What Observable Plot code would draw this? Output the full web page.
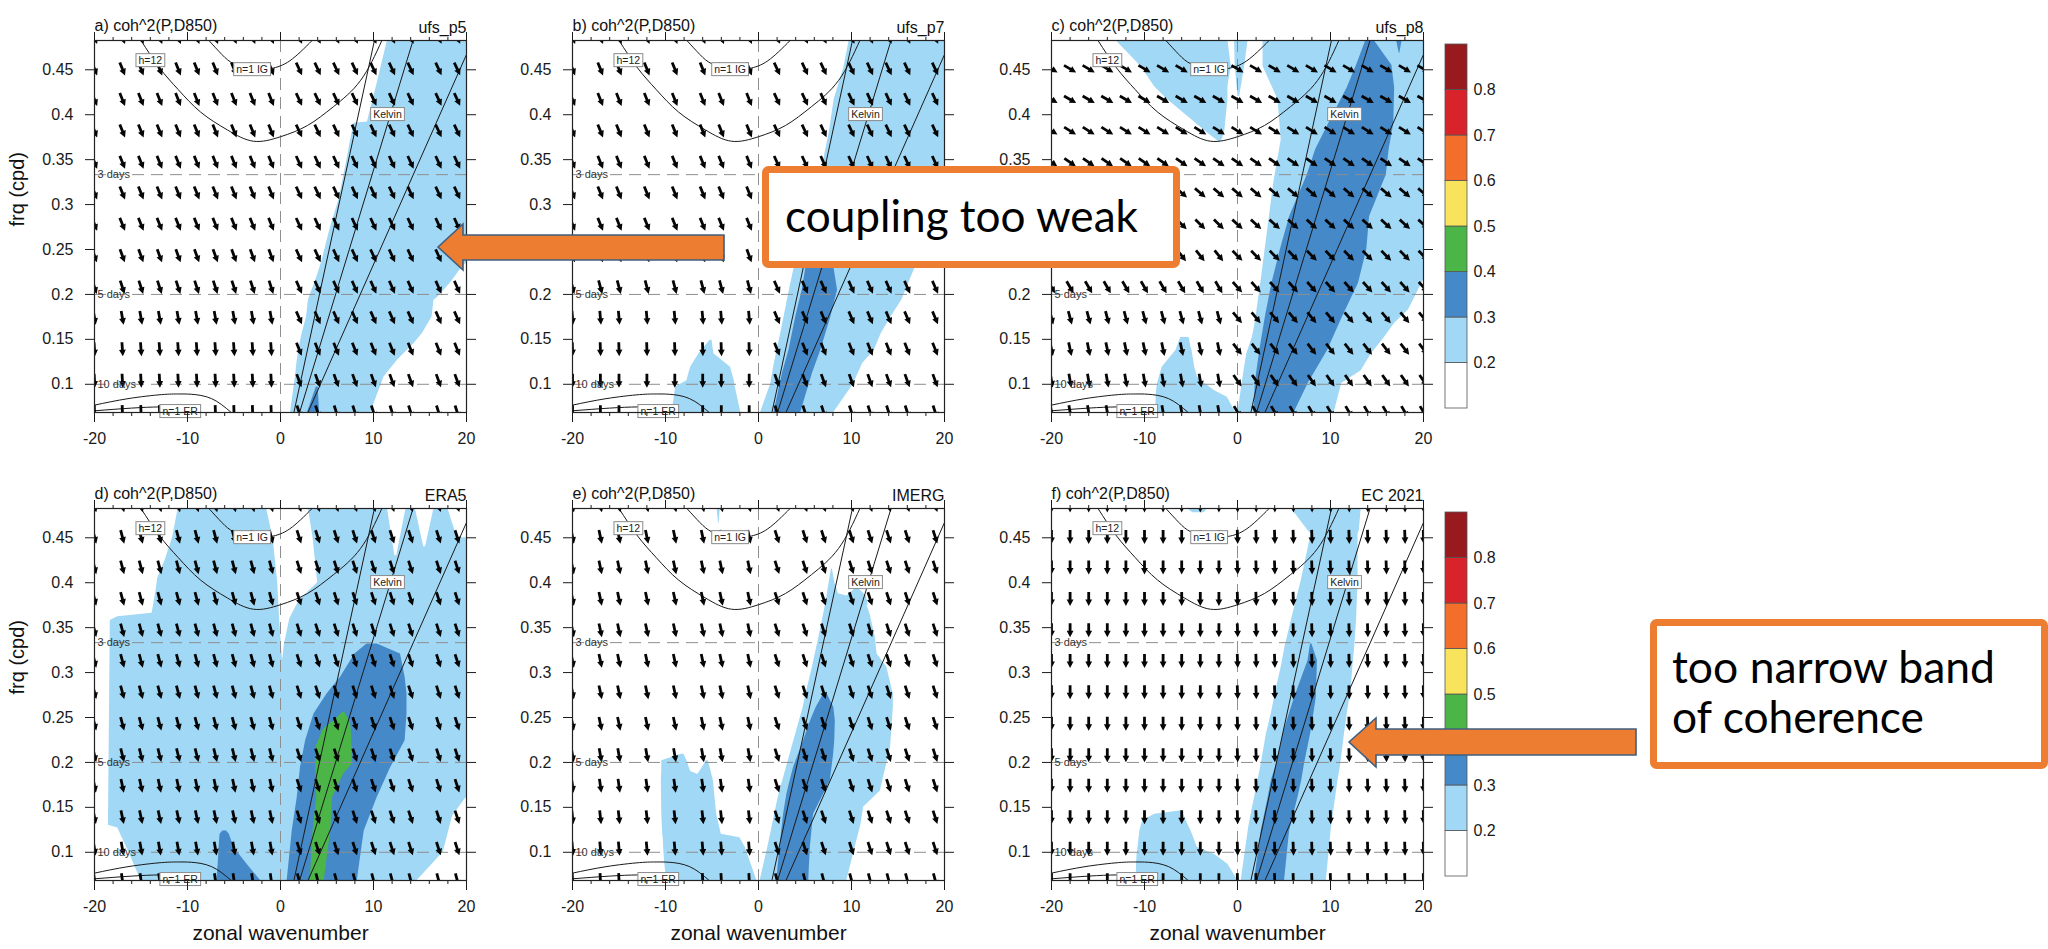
<!DOCTYPE html>
<html><head><meta charset="utf-8">
<script src="https://cdn.jsdelivr.net/npm/d3@7"></script>
<script src="https://cdn.jsdelivr.net/npm/@observablehq/plot@0.6"></script>
<style>
body{margin:0;background:#fff;}
#root{position:relative;width:2048px;height:949px;overflow:hidden;background:#fff;font-family:"Liberation Sans",Arial,Helvetica,sans-serif;}
#root svg{max-width:none;}
</style></head><body><div id="root"></div>
<script>
// ---------------- data ----------------
const xDomain = [-20, 20];
const yDomain = [0.0686, 0.4826];
const yTicks = [0.1, 0.15, 0.2, 0.25, 0.3, 0.35, 0.4, 0.45];
const xTicks = [-20, -10, 0, 10, 20];
const xMinor = [-18, -16, -14, -12, -8, -6, -4, -2, 2, 4, 6, 8, 12, 14, 16, 18];
const periodF = [0.3333, 0.2, 0.1];
const periodText = ["3 days", "5 days", "10 days"];
const levels = [0.2, 0.3, 0.4, 0.5, 0.6, 0.7, 0.8];
const levelColors = ["#ffffff", "#a0d8f5", "#4589c9", "#4bb548", "#f8e35c", "#f36d2b", "#d8232a", "#971b1e"];
const titles = ["a) coh^2(P,D850)", "b) coh^2(P,D850)", "c) coh^2(P,D850)", "d) coh^2(P,D850)", "e) coh^2(P,D850)", "f) coh^2(P,D850)"];
const models = ["ufs_p5", "ufs_p7", "ufs_p8", "ERA5", "IMERG", "EC 2021"];

// phase-arrow grid
const freqRows = [0.069, 0.104, 0.139, 0.174, 0.208, 0.243, 0.278, 0.313, 0.347, 0.382, 0.417, 0.451, 0.486];
const colsAD = [-20, -17, -15, -13, -11, -9, -7, -5, -3, -1, 2, 4, 6, 8, 10, 12, 14, 17, 19];
const colsBE = [-20, -17, -15, -12, -9, -6, -4, -1, 2, 5, 7, 10, 12, 14, 16, 19];
const colsCF = [-20, -18, -16, -14, -12, -10, -8, -6, -4, -2, 0, 2, 4, 6, 8, 10, 12, 14, 16, 18, 20];
// arrow tilt (deg, clockwise from straight down) per frequency row, west / east of k=0
const angA_W = [2, 3, 4, 10, 18, 20, 22, 22, 22, 22, 22, 22, 22];
const angA_E = [18, 20, 22, 24, 24, 25, 25, 25, 25, 25, 25, 25, 25];
const angB_W = [0, 0, 2, 5, 15, 20, 22, 22, 22, 22, 22, 22, 22];
const angB_E = [18, 20, 22, 23, 24, 25, 25, 25, 25, 25, 25, 25, 25];
const angC_W = [10, 10, 12, 15, 30, 38, 45, 50, 55, 58, 60, 60, 60];
const angC_E = [30, 35, 38, 40, 42, 45, 48, 50, 55, 58, 60, 60, 60];
const angD_W = [8, 10, 12, 12, 14, 15, 15, 15, 15, 15, 15, 15, 15];
const angD_E = [15, 18, 18, 18, 18, 18, 18, 18, 18, 18, 18, 18, 18];
const angE_W = [3, 5, 6, 8, 10, 12, 12, 12, 12, 12, 12, 12, 12];
const angE_E = [15, 18, 18, 18, 18, 18, 18, 18, 18, 18, 18, 18, 18];
const angF_W = [0, 0, 0, 0, 0, 0, 0, 0, 0, 0, 0, 0, 0];
const angF_E = [2, 2, 2, 2, 2, 2, 2, 2, 2, 2, 2, 2, 2];

// dispersion curves [k, f]
const kelvinLines = [
  {h: 50, k0: 1.44, f0: 0.0686, k1: 10.1, f1: 0.4826},
  {h: 25, k0: 2.05, f0: 0.0686, k1: 14.25, f1: 0.4826},
  {h: 12, k0: 2.95, f0: 0.0686, k1: 20, f1: 0.467}
];
const ig12 = [[-15.0, 0.4826], [-13.0, 0.452], [-11.0, 0.428], [-8.6, 0.403], [-5.7, 0.383], [-2.9, 0.3705], [0, 0.3755], [2.9, 0.388], [5.7, 0.409], [8.6, 0.438], [10.9, 0.4826]];
const ig25 = [[-7.7, 0.4826], [-6.3, 0.467], [-5.0, 0.4565], [-3.0, 0.4505], [-1.0, 0.4515], [1.0, 0.46], [3.4, 0.4826]];
const er12 = [[-20, 0.0768], [-16.4, 0.084], [-12.8, 0.0885], [-11.0, 0.0892], [-9.6, 0.0889], [-7.4, 0.084], [-5.3, 0.0686]];
const er25 = [[-20, 0.0705], [-16, 0.0735], [-13, 0.0748], [-10.5, 0.0745]];
const curveLabels = [
  {k: -14.0, f: 0.460, t: "h=12"},
  {k: -3.05, f: 0.450, t: "n=1 IG"},
  {k: 11.5, f: 0.400, t: "Kelvin"},
  {k: -10.8, f: 0.0695, t: "n=1 ER"}
];

// coherence^2 regions, rows of [frequency, k_left, k_right]
const cohA_lb = [[0.4826, 11.5, 20], [0.4351, 10.4, 20], [0.392, 9.35, 20], [0.3905, 7.9, 20], [0.372, 7.54, 20], [0.3422, 7.0, 20], [0.3051, 6.28, 20], [0.2753, 5.39, 20], [0.235, 4.4, 20], [0.23, 4.24, 19.5], [0.213, 3.7, 18.3], [0.197, 3.1, 16.9], [0.1936, 3.0, 16.5], [0.175, 2.8, 16.3], [0.1564, 2.33, 15.26], [0.1453, 2.1, 14.36], [0.1267, 1.8, 12.57], [0.1081, 1.6, 11.13], [0.0686, 1.08, 9.7]];
const cohA_db = [[0.097, 3.85, 4.05], [0.0686, 2.9, 4.2]];

const cohB_lb = [[0.4826, 9.75, 20], [0.4537, 9.21, 20], [0.4166, 8.13, 20], [0.3794, 7.6, 20], [0.3434, 6.88, 20], [0.29, 5.5, 20], [0.25, 4.5, 18.5], [0.2289, 3.82, 16.8], [0.2085, 3.4, 16.0], [0.1936, 3.1, 15.4], [0.175, 2.75, 14.24], [0.1564, 2.39, 13.2], [0.138, 2.0, 12.45], [0.123, 1.7, 11.2], [0.1, 1.3, 10.2], [0.0686, 0.23, 8.1]];
const cohB_lb2 = [[0.149, -5.2, -5.0], [0.134, -6.4, -4.8], [0.119, -7.3, -3.0], [0.104, -7.7, -2.6], [0.097, -8.9, -2.5], [0.0686, -9.3, -1.9]];
const cohB_db = [[0.30, 7.3, 7.6], [0.2289, 5.08, 8.13], [0.2047, 4.7, 8.5], [0.175, 4.0, 7.78], [0.138, 3.28, 6.7], [0.112, 2.57, 5.8], [0.0686, 1.67, 4.54]];

const cohC_lb = [[0.4826, 2.75, 20], [0.4537, 2.75, 20], [0.4166, 4.36, 20], [0.372, 4.7, 20], [0.324, 3.9, 20], [0.216, 2.55, 20], [0.183, 2.1, 18.4], [0.168, 1.9, 16.9], [0.152, 1.6, 15.8], [0.134, 1.0, 14.4], [0.115, 0.7, 13.3], [0.101, 0.5, 11.2], [0.0686, 0.05, 10.4]];
const cohC_lb2 = [[0.4826, -13.07, -1.03], [0.4537, -10.37, -0.67], [0.4314, -8.93, -1.03], [0.4166, -7.5, -1.03], [0.398, -5.34, -1.21], [0.3794, -3.18, -1.39], [0.3701, -2.03, -1.75]];
const cohC_lb3 = [[0.4826, -0.31, 1.13], [0.4537, -0.24, 0.77], [0.4203, 0.05, 0.23]];
const cohC_lb4 = [[0.152, -6.1, -5.2], [0.141, -6.5, -5.0], [0.138, -6.6, -4.9], [0.119, -8.1, -4.6], [0.108, -8.4, -4.3], [0.101, -8.6, -3.5], [0.093, -8.7, -2.5], [0.0855, -8.75, -1.1], [0.0686, -8.8, -0.2]];
const cohC_db = [[0.4826, 13.8, 14.7], [0.455, 12.8, 16.6], [0.43, 11.8, 16.9], [0.39, 9.8, 16.8], [0.361, 8.4, 16.3], [0.333, 7.5, 16.0], [0.2865, 5.6, 14.2], [0.2494, 4.6, 13.9], [0.2123, 3.7, 13.0], [0.1751, 3.0, 11.3], [0.1379, 2.4, 9.7], [0.1008, 1.9, 7.6], [0.0686, 1.8, 6.1]];
const cohC_db2 = [[0.4826, 17.1, 17.7], [0.468, 17.4, 17.45]];

const cohD_lb = [[0.4826, -18.6, 20], [0.0686, -18.6, 20]];
const cohD_w1 = [[0.4826, -20, -11.0], [0.45, -20, -11.6], [0.425, -20, -12.4], [0.405, -20, -13.2], [0.39, -20, -13.4], [0.366, -20, -13.8], [0.362, -20, -17.5], [0.358, -20, -18.3], [0.13, -20, -18.5], [0.127, -20, -17.5], [0.10, -20, -16.3], [0.0686, -20, -15.0]];
const cohD_w2 = [[0.4826, -1.5, 3.0], [0.45, -0.8, 3.5], [0.40, -0.3, 4.0], [0.38, -0.2, 2.0], [0.36, -0.1, 1.0], [0.33, 0.1, 0.4], [0.315, 0.2, 0.25]];
const cohD_w3 = [[0.4826, 11.5, 13.5], [0.43, 12.3, 12.5]];
const cohD_w4 = [[0.4826, 14.5, 16.5], [0.44, 15.4, 15.6]];
const cohD_w5 = [[0.4826, 18, 20], [0.45, 19, 20]];
const cohD_w6 = [[0.16, 19.9, 20], [0.14, 18.5, 20], [0.10, 17.5, 20], [0.0686, 14.7, 20]];
const cohD_db = [[0.3318, 9.3, 10.4], [0.3207, 8.0, 12.9], [0.2947, 6.46, 13.4], [0.2761, 5.0, 13.6], [0.2538, 3.6, 13.6], [0.2241, 2.7, 13.4], [0.1943, 2.15, 11.85], [0.1609, 1.8, 10.4], [0.1237, 1.26, 9.0], [0.0686, 0.72, 8.26]];
const cohD_db2 = [[0.1237, -6.2, -5.8], [0.12, -6.5, -5.5], [0.1052, -6.6, -5.0], [0.0867, -6.7, -3.6], [0.0686, -6.85, -2.15]];
const cohD_gr = [[0.2557, 6.7, 6.9], [0.245, 5.6, 7.5], [0.237, 4.6, 7.6], [0.2166, 3.8, 7.7], [0.198, 3.8, 7.7], [0.187, 3.8, 6.8], [0.1609, 3.9, 5.6], [0.1237, 3.5, 5.4], [0.0686, 3.2, 4.7]];

const cohE_lb = [[0.4154, 7.85, 7.95], [0.40, 7.6, 8.2], [0.3876, 7.4, 8.6], [0.38, 7.3, 11.5], [0.365, 7.0, 12.0], [0.339, 6.5, 12.57], [0.3207, 6.1, 12.75], [0.3058, 5.8, 13.8], [0.276, 5.1, 14.5], [0.2612, 4.8, 14.5], [0.2166, 3.6, 14.2], [0.1683, 2.3, 13.1], [0.16, 2.1, 12.3], [0.15, 1.9, 11.3], [0.13, 1.5, 11.0], [0.11, 1.1, 10.5], [0.0686, 0.18, 9.5]];
const cohE_lb2 = [[0.394, 10.5, 10.7], [0.385, 9.5, 11.6], [0.375, 9.2, 11.8]];
const cohE_lb3 = [[0.2092, -8.3, -8.0], [0.2018, -10.4, -7.7], [0.19, -10.4, -7.3], [0.1795, -10.45, -4.85], [0.1423, -10.4, -4.5], [0.12, -10.3, -4.0], [0.1163, -10.25, -2.0], [0.105, -10.2, -1.4], [0.09, -10.1, -0.9], [0.0686, -9.9, -0.18]];
const cohE_lb4 = [[0.2018, -5.6, -5.4], [0.19, -6.3, -5.1], [0.1795, -7.0, -4.85]];
const cohE_lb5 = [[0.4826, -4.45, -4.1], [0.466, -4.3, -4.25]];
const cohE_db = [[0.276, 7.0, 7.4], [0.2612, 6.2, 8.1], [0.2464, 5.6, 8.26], [0.2241, 4.85, 8.2], [0.2092, 4.3, 8.08], [0.1943, 3.77, 7.9], [0.1795, 3.4, 7.72], [0.1646, 3.05, 7.0], [0.1423, 2.7, 5.92], [0.1052, 2.3, 5.57], [0.0686, 1.97, 5.4]];

const cohF_lb = [[0.4826, 5.78, 13.3], [0.4582, 7.58, 13.1], [0.4545, 7.93, 12.96], [0.4024, 6.86, 12.96], [0.3578, 5.78, 12.8], [0.3281, 5.1, 12.6], [0.3058, 4.7, 12.4], [0.2835, 4.2, 12.24], [0.2538, 3.63, 11.8], [0.2315, 3.1, 11.5], [0.198, 2.55, 11.1], [0.1795, 2.2, 10.8], [0.1423, 1.47, 10.3], [0.1275, 1.2, 10.1], [0.0686, 0.4, 9.55]];
const cohF_lb2 = [[0.146, -6.2, -5.95], [0.1423, -8.9, -5.8], [0.1349, -10.2, -5.5], [0.1237, -10.5, -5.0], [0.1052, -10.7, -4.3], [0.0978, -10.8, -2.5], [0.0867, -10.85, -1.04], [0.0686, -10.9, 0.04]];
const cohF_lb3 = [[0.4826, -5.4, -3.2], [0.478, -4.8, -3.6]];
const cohF_db = [[0.3318, 7.85, 8.0], [0.3133, 7.58, 8.6], [0.2724, 6.14, 8.47], [0.2352, 5.0, 7.93], [0.198, 4.2, 7.2], [0.1795, 3.63, 6.9], [0.1609, 3.3, 6.5], [0.1237, 2.55, 5.6], [0.0686, 1.83, 5.06]];

// ---------------- layout ----------------
const LB = levelColors[1], DB = levelColors[2], GR = levelColors[3];
const panels = [
  {frame: [94, 40], cols: colsAD, angW: angA_W, angE: angA_E, regions: [[cohA_lb, LB], [cohA_db, DB]]},
  {frame: [572, 40], cols: colsBE, angW: angB_W, angE: angB_E, regions: [[cohB_lb, LB], [cohB_lb2, LB], [cohB_db, DB]]},
  {frame: [1051, 40], cols: colsCF, angW: angC_W, angE: angC_E, hidden: [0.3, 0.25], regions: [[cohC_lb, LB], [cohC_lb2, LB], [cohC_lb3, LB], [cohC_lb4, LB], [cohC_db, DB], [cohC_db2, DB]]},
  {frame: [94, 508], cols: colsAD, angW: angD_W, angE: angD_E, regions: [[cohD_lb, LB], [cohD_w1, "#ffffff"], [cohD_w2, "#ffffff"], [cohD_w3, "#ffffff"], [cohD_w4, "#ffffff"], [cohD_w5, "#ffffff"], [cohD_w6, "#ffffff"], [cohD_db, DB], [cohD_db2, DB], [cohD_gr, GR]]},
  {frame: [572, 508], cols: colsBE, angW: angE_W, angE: angE_E, regions: [[cohE_lb, LB], [cohE_lb2, LB], [cohE_lb3, LB], [cohE_lb4, LB], [cohE_lb5, LB], [cohE_db, DB]]},
  {frame: [1051, 508], cols: colsCF, angW: angF_W, angE: angF_E, regions: [[cohF_lb, LB], [cohF_lb2, LB], [cohF_lb3, LB], [cohF_db, DB]]}
];
const W = 372, ML = 90, MR = 40, MT = 45, MB = 75;
const FONT = "'Liberation Sans', Arial, Helvetica, sans-serif";
const root = document.getElementById("root");
const NS = "http://www.w3.org/2000/svg";

const arrowShape = {
  draw(context, l) {
    const w = 1.4, hw = 3.4, hl = 6.5;
    context.moveTo(-w, 0);
    context.lineTo(-w, -l + hl);
    context.lineTo(-hw, -l + hl);
    context.lineTo(0, -l);
    context.lineTo(hw, -l + hl);
    context.lineTo(w, -l + hl);
    context.lineTo(w, 0);
    context.closePath();
  }
};

function place(el, left, top) {
  el.style.position = "absolute";
  el.style.left = left + "px";
  el.style.top = top + "px";
  root.appendChild(el);
}

function boxLabels(svg) {
  const set = new Set(curveLabels.map(d => d.t));
  svg.querySelectorAll("text").forEach(t => {
    if (!set.has(t.textContent)) return;
    const b = t.getBBox();
    const r = document.createElementNS(NS, "rect");
    r.setAttribute("x", b.x - 2.5);
    r.setAttribute("y", b.y - 0.5);
    r.setAttribute("width", b.width + 5);
    r.setAttribute("height", b.height + 1);
    r.setAttribute("fill", "#fff");
    r.setAttribute("stroke", "#8a8a8a");
    r.setAttribute("stroke-width", "1");
    if (t.getAttribute("transform")) r.setAttribute("transform", t.getAttribute("transform"));
    t.parentNode.insertBefore(r, t);
  });
}

panels.forEach((p, i) => {
  const row = Math.floor(i / 3), col = i % 3;
  const arrows = [];
  p.cols.forEach(k => freqRows.forEach((f, j) => arrows.push({k, f, rot: 180 - (k < 0 ? p.angW[j] : p.angE[j])})));
  // tick labels that the callout box covers completely are left out
  const shownTicks = yTicks.filter(d => !(p.hidden || []).includes(d));
  const marks = [];
  p.regions.forEach(([rows, fill]) => marks.push(Plot.areaX(rows, {y: d => d[0], x1: d => d[1], x2: d => d[2], fill, clip: true})));
  marks.push(Plot.ruleY(periodF, {stroke: "#8e8e8e", strokeWidth: 1, strokeDasharray: "12,7"}));
  marks.push(Plot.ruleX([0], {stroke: "#8e8e8e", strokeWidth: 1, strokeDasharray: "12,7"}));
  marks.push(Plot.link(kelvinLines, {x1: "k0", y1: "f0", x2: "k1", y2: "f1", stroke: "#1a1a1a", strokeWidth: 1, clip: true}));
  [ig12, ig25, er12, er25].forEach(c => marks.push(Plot.line(c, {x: d => d[0], y: d => d[1], curve: "natural", stroke: "#1a1a1a", strokeWidth: 1, clip: true})));
  marks.push(Plot.vector(arrows, {x: "k", y: "f", rotate: "rot", length: 14, shape: arrowShape, fill: "#050505", stroke: "none", clip: true}));
  marks.push(Plot.text(periodF.map((f, j) => ({f, t: periodText[j]})), {frameAnchor: "left", y: "f", text: "t", dx: 3, textAnchor: "start", fontSize: 11, fill: "#333"}));
  marks.push(Plot.text(curveLabels, {x: "k", y: "f", text: "t", fontSize: 10.5, fill: "#222"}));
  marks.push(Plot.axisY(shownTicks, {anchor: "left", tickSize: 0, tickPadding: 21, fontSize: 16, label: null, tickFormat: d => String(d)}));
  marks.push(Plot.axisY(yTicks, {anchor: "left", tickSize: 9, label: null, tickFormat: () => ""}));
  marks.push(Plot.axisY(yTicks, {anchor: "right", tickSize: 9, label: null, tickFormat: () => ""}));
  marks.push(Plot.axisX(xTicks, {anchor: "bottom", tickSize: 10, tickPadding: 10, fontSize: 16, label: null, tickFormat: d => String(d)}));
  marks.push(Plot.axisX(xTicks, {anchor: "top", tickSize: 9, label: null, tickFormat: () => ""}));
  marks.push(Plot.axisX(xMinor, {anchor: "top", tickSize: 4, label: null, tickFormat: () => ""}));
  marks.push(Plot.axisX(xMinor, {anchor: "bottom", tickSize: 4, label: null, tickFormat: () => ""}));
  marks.push(Plot.frame({stroke: "#222", strokeWidth: 1.2}));
  marks.push(Plot.text([titles[i]], {frameAnchor: "top-left", dy: -21, text: d => d, textAnchor: "start", fontSize: 16, fill: "#111"}));
  marks.push(Plot.text([models[i]], {frameAnchor: "top-right", dy: -19, text: d => d, textAnchor: "end", fontSize: 16, fill: "#111"}));
  if (col === 0) marks.push(Plot.text(["frq (cpd)"], {frameAnchor: "left", dx: -77, rotate: -90, text: d => d, fontSize: 20, fill: "#111"}));
  if (row === 1) marks.push(Plot.text(["zonal wavenumber"], {frameAnchor: "bottom", dy: 59, text: d => d, fontSize: 21, fill: "#111"}));
  const svg = Plot.plot({
    width: ML + W + MR, height: MT + W + MB,
    marginLeft: ML, marginRight: MR, marginTop: MT, marginBottom: MB,
    x: {domain: xDomain}, y: {domain: yDomain},
    style: {fontFamily: FONT, overflow: "visible", background: "transparent", color: "#1a1a1a"},
    marks
  });
  place(svg, p.frame[0] - ML, p.frame[1] - MT);
  boxLabels(svg);
});

// colour bars
const cbSegments = levelColors.map((c, j) => ({lo: 0.1 + j * 0.1, hi: 0.2 + j * 0.1, c}));
[44, 512].forEach(top => {
  const svg = Plot.plot({
    width: 1 + 22 + 45, height: 364 + 20, marginLeft: 1, marginRight: 45, marginTop: 10, marginBottom: 10,
    x: {domain: [0, 1], axis: null}, y: {domain: [0.1, 0.9]}, color: {type: "identity"},
    style: {fontFamily: FONT, overflow: "visible", background: "transparent", color: "#1a1a1a"},
    marks: [
      Plot.rect(cbSegments, {x1: 0, x2: 1, y1: "lo", y2: "hi", fill: "c", stroke: "#555", strokeWidth: 0.8}),
      Plot.axisY(levels, {anchor: "right", tickSize: 0, tickPadding: 6, fontSize: 16, label: null, tickFormat: d => String(d)})
    ]
  });
  place(svg, 1444, top - 10);
});

// annotation callouts (slide overlay)
const ov = document.createElementNS(NS, "svg");
ov.setAttribute("width", 2048); ov.setAttribute("height", 949);
ov.style.pointerEvents = "none";
const callouts = [
  {rect: [765.5, 169.5, 411, 95], lines: ["coupling too weak"], x: 785, base: [232], len: [353]},
  {rect: [1653.5, 622.5, 391, 143], lines: ["too narrow band", "of coherence"], x: 1672, base: [683, 733], len: [323, 252]}
];
const arrowsPoly = [
  [[438, 247], [463, 224], [463, 235], [724, 235], [724, 260], [463, 260], [463, 270]],
  [[1349, 742], [1376, 718], [1376, 729], [1636, 729], [1636, 755], [1376, 755], [1376, 767]]
];
arrowsPoly.forEach(pts => {
  const pg = document.createElementNS(NS, "polygon");
  pg.setAttribute("points", pts.map(d => d.join(",")).join(" "));
  pg.setAttribute("fill", "#ed7d31");
  pg.setAttribute("stroke", "#3f5f80");
  pg.setAttribute("stroke-width", "1.6");
  ov.appendChild(pg);
});
callouts.forEach(c => {
  const r = document.createElementNS(NS, "rect");
  r.setAttribute("x", c.rect[0]); r.setAttribute("y", c.rect[1]);
  r.setAttribute("width", c.rect[2]); r.setAttribute("height", c.rect[3]);
  r.setAttribute("rx", 3);
  r.setAttribute("fill", "#fff"); r.setAttribute("stroke", "#ed7d31"); r.setAttribute("stroke-width", 7);
  ov.appendChild(r);
  c.lines.forEach((s, j) => {
    const t = document.createElementNS(NS, "text");
    t.setAttribute("x", c.x); t.setAttribute("y", c.base[j]);
    t.setAttribute("font-family", "Lato, 'Open Sans', sans-serif");
    t.setAttribute("font-size", 45);
    t.setAttribute("textLength", c.len[j]);
    t.setAttribute("lengthAdjust", "spacingAndGlyphs");
    t.setAttribute("fill", "#000");
    t.textContent = s;
    ov.appendChild(t);
  });
});
place(ov, 0, 0);
</script></body></html>
